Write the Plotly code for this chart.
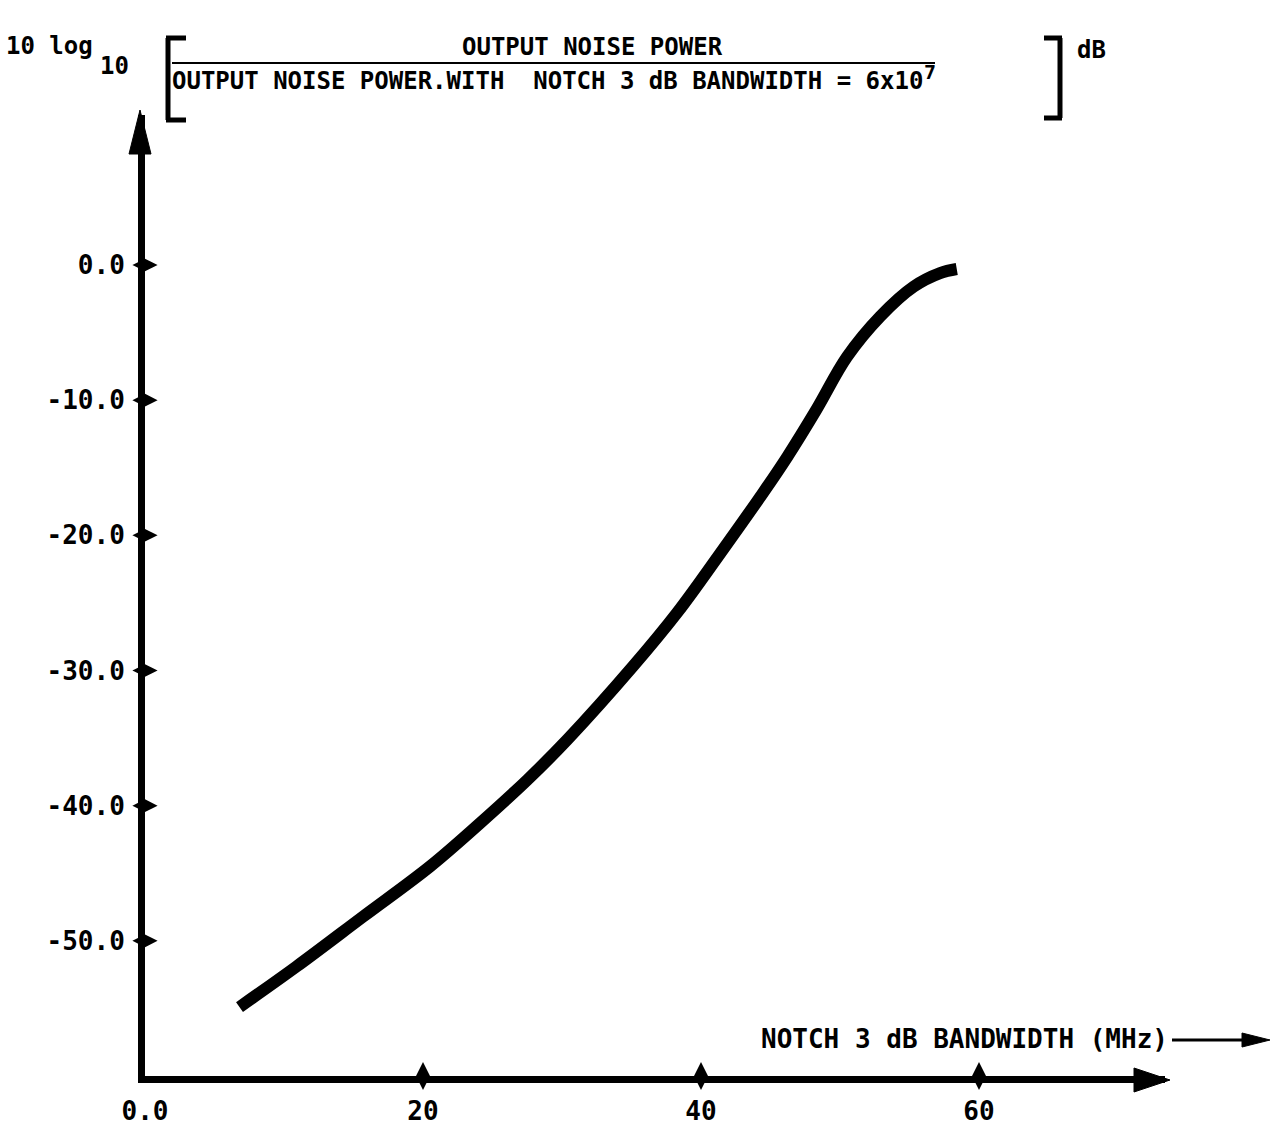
import plotly.graph_objects as go

# ---- data ----
bandwidth_mhz = [6.8, 10.9, 15.7, 20.5, 24.1, 27.5, 30.4, 35.1, 38.3, 41.2,
                 44.5, 46.2, 48.3, 50.5, 52.9, 55.3, 57.2, 58.4]
noise_ratio_db = [-54.9, -51.9, -48.2, -44.5, -41.3, -38.1, -35.1, -29.7, -25.7, -21.6,
                  -16.8, -14.2, -10.7, -6.8, -3.8, -1.6, -0.6, -0.3]

x_tick_vals = [0, 20, 40, 60]
x_tick_text = ["0.0", "20", "40", "60"]
y_tick_vals = [0, -10, -20, -30, -40, -50]
y_tick_text = ["0.0", "-10.0", "-20.0", "-30.0", "-40.0", "-50.0"]

# ---- layout geometry (pixels) ----
W, H = 1276, 1131
L, R, T, B = 145, 1165, 115, 1076
FONT = "DejaVu Sans Mono"
WEIGHT = "bold"


def px(x):
    return (x - L) / (R - L)


def py(y):
    return (B - y) / (B - T)


def font(size):
    return dict(family=FONT, size=size, color="black", weight=WEIGHT)


fig = go.Figure()

fig.add_trace(go.Scatter(
    x=bandwidth_mhz, y=noise_ratio_db, mode="lines",
    line=dict(color="black", width=12, shape="spline", smoothing=1.0),
    hoverinfo="skip", showlegend=False,
))

# tick blobs on the axes
fig.add_trace(go.Scatter(
    x=[0] * len(y_tick_vals), y=y_tick_vals, mode="markers",
    marker=dict(symbol="diamond-wide", size=18, color="black"),
    cliponaxis=False, showlegend=False, hoverinfo="skip",
))
fig.add_trace(go.Scatter(
    x=x_tick_vals[1:], y=[-60] * (len(x_tick_vals) - 1), mode="markers",
    marker=dict(symbol="diamond-tall", size=20, color="black"),
    cliponaxis=False, showlegend=False, hoverinfo="skip",
))

xmax = (R - L) / 13.9
ymax = (265 - T) / 13.52

fig.update_xaxes(range=[0, xmax], showgrid=False, zeroline=False, automargin=False,
                 showline=True, linewidth=7, linecolor="black",
                 tickvals=x_tick_vals, ticktext=x_tick_text, ticks="",
                 ticklabelstandoff=6, tickfont=font(26))
fig.update_yaxes(range=[-60, ymax], showgrid=False, zeroline=False, automargin=False,
                 showline=True, linewidth=7, linecolor="black",
                 tickvals=y_tick_vals, ticktext=y_tick_text, ticks="",
                 ticklabelstandoff=8, tickfont=font(26))

shapes = []


def tri(p1, p2, p3):
    return dict(type="path", xref="paper", yref="paper",
                path=f"M {px(p1[0])} {py(p1[1])} L {px(p2[0])} {py(p2[1])} L {px(p3[0])} {py(p3[1])} Z",
                fillcolor="black", line=dict(color="black", width=1))


def seg(x0, y0, x1, y1, w):
    return dict(type="line", xref="paper", yref="paper",
                x0=px(x0), y0=py(y0), x1=px(x1), y1=py(y1),
                line=dict(color="black", width=w))


# axis arrowheads
shapes.append(tri((140, 110), (129, 154), (151, 154)))
shapes.append(tri((1170, 1080), (1134, 1068), (1134, 1092)))
# x label arrow
shapes.append(seg(1172, 1040, 1250, 1040, 3))
shapes.append(tri((1270, 1040), (1242, 1033), (1242, 1047)))
# brackets
shapes.append(seg(168, 38, 168, 120, 5))
shapes.append(seg(166, 38, 186, 38, 5))
shapes.append(seg(166, 120, 186, 120, 5))
shapes.append(seg(1060, 38, 1060, 118, 5))
shapes.append(seg(1062, 38, 1044, 38, 5))
shapes.append(seg(1062, 118, 1044, 118, 5))
# fraction bar
shapes.append(seg(172, 63, 935, 63, 2))

annotations = [
    dict(text="10 log", x=px(4), y=py(46), xanchor="left", yanchor="middle"),
    dict(text="10", x=px(98), y=py(66), xanchor="left", yanchor="middle"),
    dict(text="OUTPUT NOISE POWER", x=px(592), y=py(47), xanchor="center", yanchor="middle"),
    dict(text="OUTPUT NOISE POWER.WITH  NOTCH 3 dB BANDWIDTH = 6x10",
         x=px(170), y=py(81), xanchor="left", yanchor="middle"),
    dict(text="7", x=px(922), y=py(72), xanchor="left", yanchor="middle", font=font(20)),
    dict(text="dB", x=px(1075), y=py(50), xanchor="left", yanchor="middle"),
    dict(text="NOTCH 3 dB BANDWIDTH (MHz)", x=px(1170), y=py(1039),
         xanchor="right", yanchor="middle", font=font(26)),
]
for a in annotations:
    a.setdefault("font", font(24))
    a.update(xref="paper", yref="paper", showarrow=False)

fig.update_layout(
    width=W, height=H,
    margin=dict(l=L, r=W - R, t=T, b=H - B, autoexpand=False),
    paper_bgcolor="white", plot_bgcolor="white",
    shapes=shapes, annotations=annotations,
    showlegend=False,
)

fig.write_html("out.html")
